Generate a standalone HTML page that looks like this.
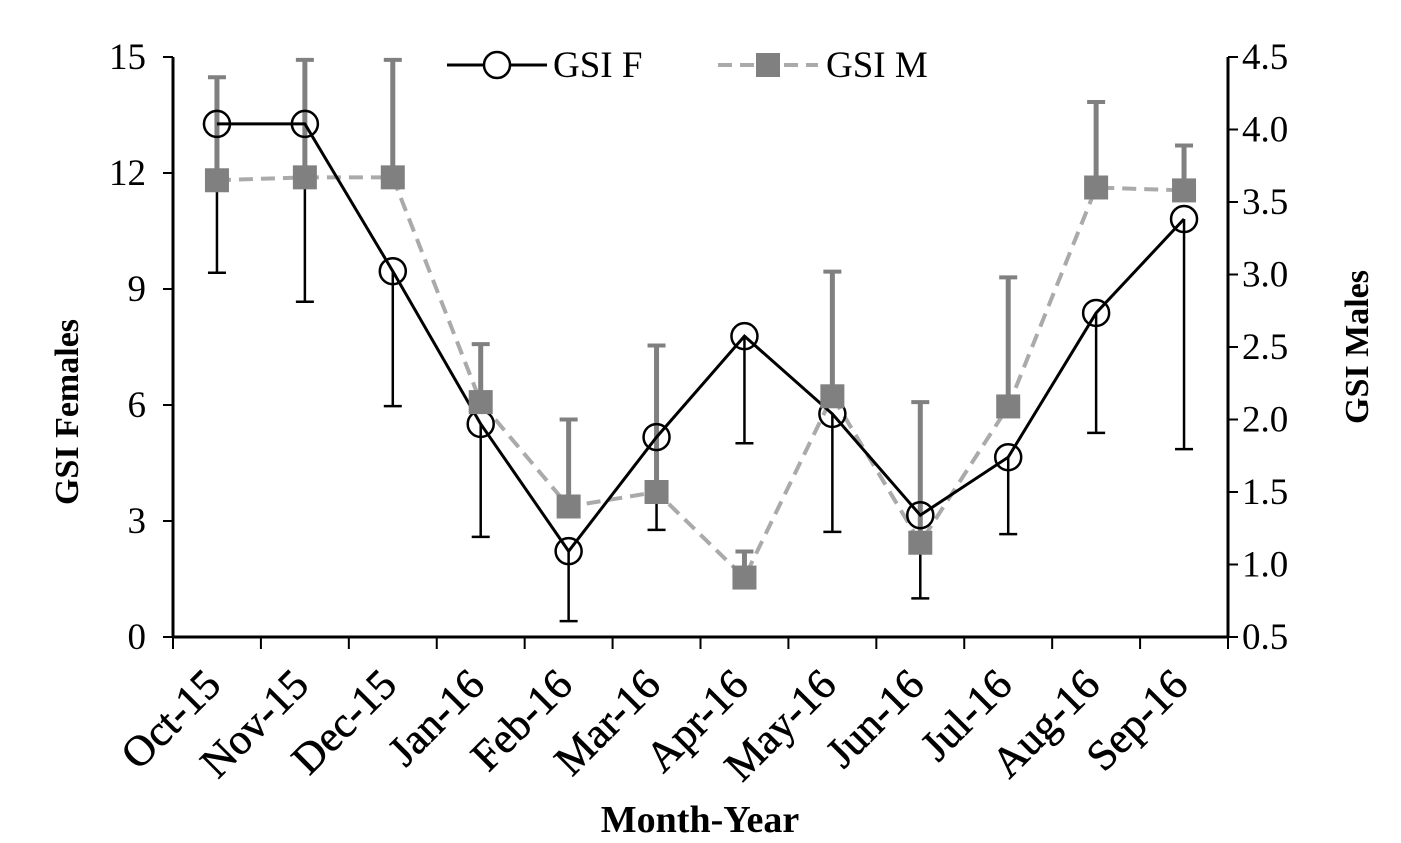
<!DOCTYPE html>
<html><head><meta charset="utf-8"><style>
html,body{margin:0;padding:0;background:#fff;}
svg{display:block;font-family:"Liberation Serif",serif;}
</style></head><body>
<svg id="chart" width="1401" height="843" viewBox="0 0 1401 843"></svg>
<script>
const categories=["Oct-15","Nov-15","Dec-15","Jan-16","Feb-16","Mar-16","Apr-16","May-16","Jun-16","Jul-16","Aug-16","Sep-16"];
const gsiF=[13.27,13.27,9.46,5.51,2.22,5.17,7.78,5.77,3.15,4.65,8.38,10.81];
const gsiFErr=[3.85,4.60,3.49,2.92,1.81,2.40,2.77,3.05,2.15,1.99,3.10,5.95];
const gsiM=[3.65,3.67,3.67,2.12,1.40,1.50,0.91,2.16,1.15,2.09,3.60,3.58];
const gsiMErr=[0.71,0.81,0.81,0.40,0.60,1.01,0.18,0.86,0.97,0.89,0.59,0.31];
const leftTicks=[0,3,6,9,12,15];
const rightTicks=[0.5,1.0,1.5,2.0,2.5,3.0,3.5,4.0,4.5];

const svg=document.getElementById('chart');
const NS='http://www.w3.org/2000/svg';
const X0=173,X1=1228,YT=57,YB=637;
const band=(X1-X0)/categories.length;
const xs=i=>X0+band*(i+0.5);
const yL=v=>YB-(v-0)/15*(YB-YT);
const yR=v=>YB-(v-0.5)/4*(YB-YT);
function mk(tag,attrs,parent){const e=document.createElementNS(NS,tag);for(const k in attrs)e.setAttribute(k,attrs[k]);(parent||svg).appendChild(e);return e;}

let a=mk('line',{x1:X0,y1:YT,x2:X0,y2:YB,stroke:'#000','stroke-width':3});


a=mk('line',{x1:X1,y1:YT,x2:X1,y2:YB,stroke:'#000','stroke-width':3});


a=mk('line',{x1:X0,y1:YB,x2:X1,y2:YB,stroke:'#000','stroke-width':3});



leftTicks.forEach(v=>{
  const y=yL(v);
  mk('line',{x1:X0-10,y1:y,x2:X0,y2:y,stroke:'#000','stroke-width':2});
  const t=mk('text',{x:X0-27,y:y+12,'text-anchor':'end','font-size':37});
  t.textContent=v;
  
  
});
rightTicks.forEach(v=>{
  const y=yR(v);
  mk('line',{x1:X1,y1:y,x2:X1+10,y2:y,stroke:'#000','stroke-width':2});
  const t=mk('text',{x:X1+14,y:y+12,'text-anchor':'start','font-size':37});
  t.textContent=v.toFixed(1);
  
  
});
for(let i=0;i<=categories.length;i++){
  mk('line',{x1:X0+band*i,y1:YB,x2:X0+band*i,y2:YB+12,stroke:'#000','stroke-width':2});
}
categories.forEach((c,i)=>{
  const x=xs(i)+6,y=YB+50;
  const t=mk('text',{x:x,y:y,'text-anchor':'end','font-size':43,'stroke':'#000','stroke-width':0.6,transform:`rotate(-45 ${x} ${y})`});
  t.textContent=c;
  
  
});

let t=mk('text',{x:700,y:832,'text-anchor':'middle','font-size':38,'font-weight':'bold'});
t.textContent='Month-Year';


t=mk('text',{x:0,y:0,'text-anchor':'middle','font-size':34,'font-weight':'bold',transform:'translate(78 412) rotate(-90)'});
t.textContent='GSI Females';


t=mk('text',{x:0,y:0,'text-anchor':'middle','font-size':34,'font-weight':'bold',transform:'translate(1368 347) rotate(-90)'});
t.textContent='GSI Males';



gsiF.forEach((v,i)=>{
  const x=xs(i),y2=yL(v-gsiFErr[i]);
  const g=mk('g',{});
  
  
  mk('line',{x1:x,y1:yL(v),x2:x,y2:y2,stroke:'#000','stroke-width':2.5},g);
  mk('line',{x1:x-9,y1:y2,x2:x+9,y2:y2,stroke:'#000','stroke-width':2.5},g);
});
gsiM.forEach((v,i)=>{
  const x=xs(i),y2=yR(v+gsiMErr[i]);
  const g=mk('g',{});
  
  
  mk('line',{x1:x,y1:yR(v),x2:x,y2:y2,stroke:'#808080','stroke-width':5},g);
  mk('line',{x1:x-9,y1:y2,x2:x+9,y2:y2,stroke:'#808080','stroke-width':4},g);
});
let p=mk('polyline',{points:gsiM.map((v,i)=>xs(i)+','+yR(v)).join(' '),fill:'none',stroke:'#aaa','stroke-width':4,'stroke-dasharray':'14,8'});


p=mk('polyline',{points:gsiF.map((v,i)=>xs(i)+','+yL(v)).join(' '),fill:'none',stroke:'#000','stroke-width':3});


gsiF.forEach((v,i)=>{
  const c=mk('circle',{cx:xs(i),cy:yL(v),r:13,fill:'none',stroke:'#000','stroke-width':2.5});
  
  
});
gsiM.forEach((v,i)=>{
  const r=mk('rect',{x:xs(i)-12,y:yR(v)-12,width:24,height:24,fill:'#808080'});
  
  
});

const lg=mk('g',{});


mk('line',{x1:447,y1:65,x2:547,y2:65,stroke:'#000','stroke-width':3},lg);
mk('circle',{cx:497,cy:65,r:13,fill:'#fff',stroke:'#000','stroke-width':2.5},lg);
t=mk('text',{x:553,y:77,'font-size':37},lg);
t.textContent='GSI F';


mk('line',{x1:718,y1:65,x2:818,y2:65,stroke:'#aaa','stroke-width':4,'stroke-dasharray':'14,8'},lg);
mk('rect',{x:756,y:53,width:24,height:24,fill:'#808080'},lg);
t=mk('text',{x:826,y:77,'font-size':37},lg);
t.textContent='GSI M';


</script>
</body></html>
